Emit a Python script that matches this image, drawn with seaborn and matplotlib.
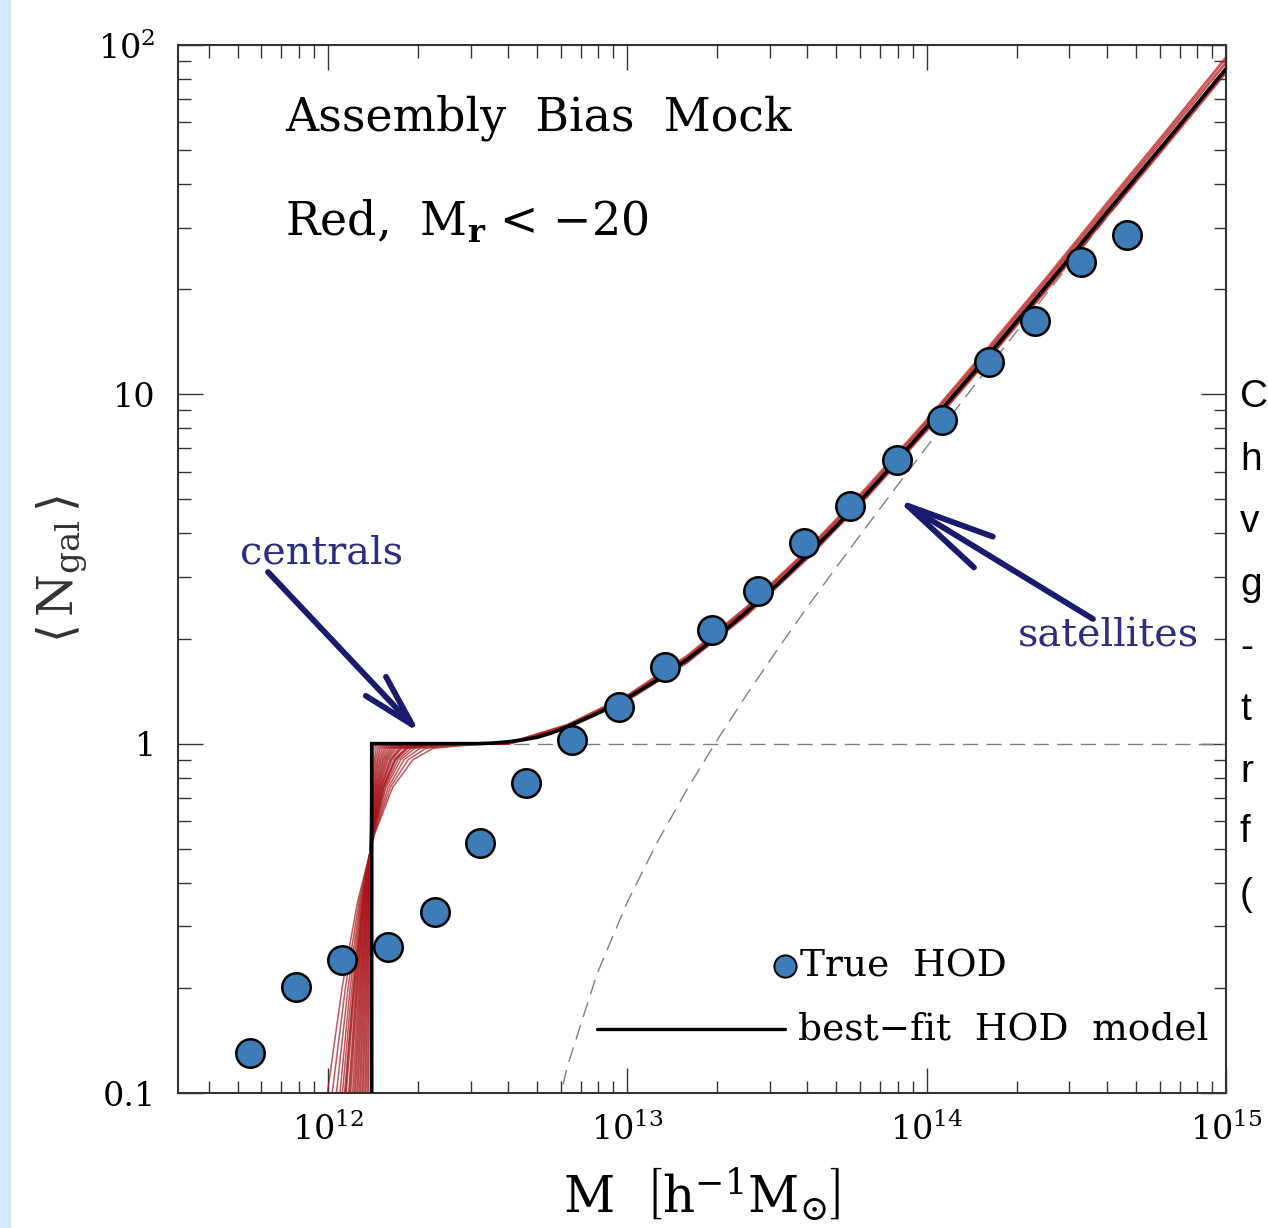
import numpy as np
import pandas as pd
import seaborn as sns
import matplotlib.pyplot as plt
from matplotlib.ticker import LogLocator, NullFormatter
from matplotlib.patches import Rectangle

# True HOD of the mock (log10 M, <N>)
log_mass_true = [11.74, 11.893, 12.047, 12.20, 12.357, 12.51, 12.663, 12.817, 12.973, 13.127,
                 13.283, 13.437, 13.59, 13.743, 13.90, 14.053, 14.207, 14.363, 14.517, 14.67]
n_true = [0.130, 0.201, 0.240, 0.262, 0.330, 0.519, 0.771, 1.026, 1.276, 1.66,
          2.12, 2.74, 3.76, 4.80, 6.50, 8.42, 12.4, 16.2, 24.0, 28.6]

# best-fit HOD model (total)
log_mass_fit = [12.147, 12.147, 12.3, 12.5, 12.55, 12.6, 12.65, 12.7, 12.75, 12.8, 12.9, 13.0,
                13.1, 13.2, 13.3, 13.4, 13.5, 13.6, 13.7, 13.8, 13.9, 14.0, 14.2, 14.4, 14.6,
                14.8, 15.0]
n_fit = [0.05, 1.0, 1.0, 1.0, 1.004, 1.012, 1.025, 1.043, 1.075, 1.119, 1.22, 1.35,
         1.52, 1.74, 2.02, 2.39, 2.85, 3.45, 4.21, 5.19, 6.45, 8.06, 12.75, 20.4, 33.0,
         53.0, 85.5]

# satellite and central terms (dashed)
log_mass_sat = [12.75, 12.8, 12.9, 13.0, 13.1, 13.2, 13.3, 13.4, 13.5, 13.6, 13.7, 13.8,
                13.9, 14.0, 14.2, 14.4, 14.6, 14.8, 15.0]
n_sat = [0.078, 0.119, 0.220, 0.351, 0.521, 0.740, 1.022, 1.385, 1.85, 2.45, 3.21, 4.19,
         5.45, 7.06, 11.75, 19.4, 32.0, 52.0, 84.5]
log_mass_cen = [12.147, 15.0]
n_cen = [1.0, 1.0]

# chain samples around the central step: log M at which each sample reaches these <N>
chain_levels = [0.05, 0.1, 0.2, 0.35, 0.55, 0.75, 0.9, 0.97, 1.0, 1.0]
chain_log_mass = [
    [12.136, 12.137, 12.139, 12.141, 12.142, 12.144, 12.146, 12.149, 12.154, 12.6],
    [12.130, 12.133, 12.136, 12.139, 12.143, 12.147, 12.151, 12.155, 12.166, 12.6],
    [12.125, 12.128, 12.133, 12.138, 12.143, 12.149, 12.156, 12.162, 12.178, 12.6],
    [12.119, 12.124, 12.130, 12.137, 12.144, 12.152, 12.160, 12.169, 12.190, 12.6],
    [12.113, 12.119, 12.127, 12.135, 12.144, 12.154, 12.165, 12.175, 12.202, 12.6],
    [12.107, 12.115, 12.124, 12.134, 12.145, 12.156, 12.169, 12.182, 12.214, 12.6],
    [12.101, 12.110, 12.121, 12.132, 12.145, 12.159, 12.174, 12.189, 12.226, 12.6],
    [12.096, 12.106, 12.118, 12.131, 12.146, 12.161, 12.178, 12.195, 12.238, 12.6],
    [12.090, 12.101, 12.115, 12.130, 12.146, 12.164, 12.183, 12.202, 12.250, 12.6],
    [12.084, 12.097, 12.112, 12.128, 12.147, 12.166, 12.187, 12.209, 12.262, 12.6],
    [12.078, 12.092, 12.109, 12.127, 12.147, 12.168, 12.192, 12.215, 12.274, 12.6],
    [12.072, 12.088, 12.106, 12.126, 12.147, 12.171, 12.196, 12.222, 12.286, 12.6],
    [12.066, 12.083, 12.103, 12.124, 12.148, 12.173, 12.201, 12.229, 12.298, 12.6],
    [12.058, 12.077, 12.099, 12.122, 12.148, 12.176, 12.207, 12.238, 12.315, 12.6],
    [12.054, 12.073, 12.097, 12.121, 12.149, 12.178, 12.211, 12.243, 12.324, 12.6],
    [12.049, 12.070, 12.094, 12.120, 12.149, 12.180, 12.215, 12.248, 12.334, 12.6],
    [12.040, 12.062, 12.090, 12.118, 12.150, 12.184, 12.222, 12.259, 12.353, 12.6],
    [12.035, 12.059, 12.087, 12.117, 12.150, 12.186, 12.225, 12.264, 12.363, 12.6],
    [12.032, 12.056, 12.086, 12.116, 12.151, 12.187, 12.228, 12.268, 12.370, 12.6],
    [12.022, 12.049, 12.081, 12.114, 12.151, 12.191, 12.235, 12.279, 12.389, 12.6],
    [12.012, 12.041, 12.075, 12.111, 12.152, 12.195, 12.244, 12.291, 12.411, 12.6],
    [11.997, 12.029, 12.068, 12.108, 12.153, 12.202, 12.255, 12.308, 12.442, 12.6],
    [11.979, 12.015, 12.059, 12.104, 12.155, 12.209, 12.269, 12.328, 12.478, 12.6],
    [11.958, 11.999, 12.048, 12.099, 12.156, 12.217, 12.285, 12.352, 12.521, 12.6],
]
# spread of the chain at high mass
chain_hi_log_mass = [12.6, 12.8, 13.0, 13.2, 13.4, 13.6, 13.8, 14.0, 14.2, 14.4, 14.6, 14.8, 15.0]
chain_hi = [
    [1.0, 1.13, 1.37, 1.78, 2.46, 3.57, 5.40, 8.42, 13.4, 21.5, 35.0, 56.5, 92.0],
    [1.0, 1.125, 1.36, 1.76, 2.43, 3.52, 5.30, 8.26, 13.1, 21.0, 34.1, 55.0, 89.0],
    [1.0, 1.115, 1.34, 1.72, 2.36, 3.41, 5.13, 7.95, 12.55, 20.1, 32.5, 52.2, 84.5],
    [1.0, 1.11, 1.33, 1.71, 2.34, 3.38, 5.08, 7.88, 12.45, 19.9, 32.2, 51.6, 83.5],
]

y_ticks = [0.1, 1, 10, 100]
y_tick_labels = ["0.1", "1", "10", "$10^2$"]
x_ticks = [1e12, 1e13, 1e14, 1e15]
x_tick_labels = ["$10^{12}$", "$10^{13}$", "$10^{14}$", "$10^{15}$"]

sns.set_theme(style="ticks")
plt.rcParams["font.family"] = ["DejaVu Serif"]
plt.rcParams["mathtext.fontset"] = "dejavuserif"
plt.rcParams["text.color"] = "black"
plt.rcParams["axes.labelcolor"] = "black"
plt.rcParams["xtick.labelcolor"] = "black"
plt.rcParams["ytick.labelcolor"] = "black"

# build tables
rows = []
for i, lm in enumerate(chain_log_mass):
    for m, n in zip(lm, chain_levels):
        rows.append((i, 10 ** m, n))
chain_df = pd.DataFrame(rows, columns=["sample", "M", "N"])
rows = []
for j, hi in enumerate(chain_hi):
    for m, n in zip(chain_hi_log_mass, hi):
        rows.append((j, 10 ** m, n))
chain_hi_df = pd.DataFrame(rows, columns=["sample", "M", "N"])

true_df = pd.DataFrame({"M": 10 ** np.array(log_mass_true), "N": n_true})
fit_df = pd.DataFrame({"M": 10 ** np.array(log_mass_fit), "N": n_fit})
sat_df = pd.DataFrame({"M": 10 ** np.array(log_mass_sat), "N": n_sat})
cen_df = pd.DataFrame({"M": 10 ** np.array(log_mass_cen), "N": n_cen})

fig = plt.figure(figsize=(12.68, 12.28), dpi=100)
fig.patches.append(Rectangle((0, 0), 10 / 1268, 1, transform=fig.transFigure,
                             color="#d6e9fb", zorder=0))
ax = fig.add_axes([178 / 1268, 135 / 1228, 1048 / 1268, 1048 / 1228])
ax.set_xscale("log")
ax.set_yscale("log")

dash = (0, (11, 6))
sns.lineplot(data=cen_df, x="M", y="N", ax=ax, color="#808080", lw=1.0,
             linestyle=dash, sort=False, estimator=None, zorder=1)
sns.lineplot(data=sat_df, x="M", y="N", ax=ax, color="#808080", lw=1.0,
             linestyle=dash, sort=False, estimator=None, zorder=1)
sns.lineplot(data=chain_df, x="M", y="N", units="sample", estimator=None, sort=False,
             ax=ax, color="#a8161a", lw=1.1, alpha=0.72, zorder=2)
sns.lineplot(data=chain_hi_df, x="M", y="N", units="sample", estimator=None, sort=False,
             ax=ax, color="#b81f1c", lw=2.0, alpha=0.75, zorder=2)
sns.lineplot(data=fit_df, x="M", y="N", ax=ax, color="black", lw=2.6, sort=False,
             estimator=None, zorder=3, solid_joinstyle="miter")
sns.scatterplot(data=true_df, x="M", y="N", ax=ax, color="#3d7cb6", s=420,
                edgecolor="black", linewidth=1.8, zorder=4)

ax.set_xlim(10 ** 11.5, 1e15)
ax.set_ylim(0.1, 100)
ax.set_xticks(x_ticks)
ax.set_xticklabels(x_tick_labels)
ax.set_yticks(y_ticks)
ax.set_yticklabels(y_tick_labels)
ax.xaxis.set_minor_locator(LogLocator(base=10, subs=np.arange(2, 10)))
ax.yaxis.set_minor_locator(LogLocator(base=10, subs=np.arange(2, 10)))
ax.xaxis.set_minor_formatter(NullFormatter())
ax.yaxis.set_minor_formatter(NullFormatter())
ax.tick_params(which="major", direction="in", length=18, width=1.0, top=True, right=True,
               labelsize=24, color="#333333", labelcolor="black")
ax.tick_params(which="minor", direction="in", length=9, width=1.0, top=True, right=True,
               color="#333333")
ax.tick_params(axis="x", which="major", pad=14)
ax.tick_params(axis="y", which="major", pad=16)
for s in ax.spines.values():
    s.set_linewidth(1.5)
    s.set_color("#333333")

ax.set_xlabel(r"$\mathrm{M}\ \ \left[\mathrm{h^{-1}M_{\odot}}\right]$", fontsize=36)
ax.set_ylabel(r"$\langle\,\mathrm{N_{gal}}\,\rangle$", fontsize=35, color="#333333")
ax.xaxis.set_label_coords(0.5, -0.07)
ax.yaxis.set_label_coords(-0.085, 0.5)

ax.text(0.102, 0.918, "Assembly  Bias  Mock", transform=ax.transAxes, fontsize=33,
        va="baseline")
ax.text(0.102, 0.8177, r"Red,  M$_\mathbf{r}$ < $-$20", transform=ax.transAxes,
        fontsize=33, va="baseline")

navy = "#1b1b6e"
ax.text(0.0592, 0.5057, "centrals", transform=ax.transAxes, fontsize=28.5,
        color="#2c2c80", va="baseline")
ax.annotate("", xy=(0.2309, 0.3435), xytext=(0.0859, 0.4971), xycoords="axes fraction",
            arrowprops=dict(arrowstyle="->,head_length=1.9,head_width=0.5", color=navy,
                            lw=4.2, shrinkA=0, shrinkB=0, mutation_scale=20))
ax.text(0.8015, 0.4265, "satellites", transform=ax.transAxes, fontsize=28.5,
        color="#2c2c80", va="baseline")
ax.annotate("", xy=(0.6842, 0.5677), xytext=(0.8731, 0.4523), xycoords="axes fraction",
            arrowprops=dict(arrowstyle="->,head_length=3.2,head_width=0.65", color=navy,
                            lw=4.2, shrinkA=0, shrinkB=0, mutation_scale=20))

# legend drawn by hand to match the layout
ax.plot([0.579], [0.121], "o", transform=ax.transAxes, ms=16, mfc="#3d7cb6",
        mec="black", mew=1.4, clip_on=False)
ax.text(0.5935, 0.121, "True  HOD", transform=ax.transAxes, fontsize=27, va="center")
ax.plot([0.400, 0.579], [0.061, 0.061], transform=ax.transAxes, color="black", lw=2.4)
ax.text(0.592, 0.061, "best\u2212fit  HOD  model", transform=ax.transAxes, fontsize=27,
        va="center")

# slide text beside the chart, only its first letters are in view
for ch, ypx in zip(["C", "h", "v", "g", "-", "t", "r", "f", "("],
                   [397, 460, 522, 585, 648, 710, 772, 832, 895]):
    fig.text(1240 / 1268, 1 - ypx / 1228, ch, fontsize=28, va="center", ha="left",
             family="Liberation Sans")

fig.savefig("out.png", dpi=100)
